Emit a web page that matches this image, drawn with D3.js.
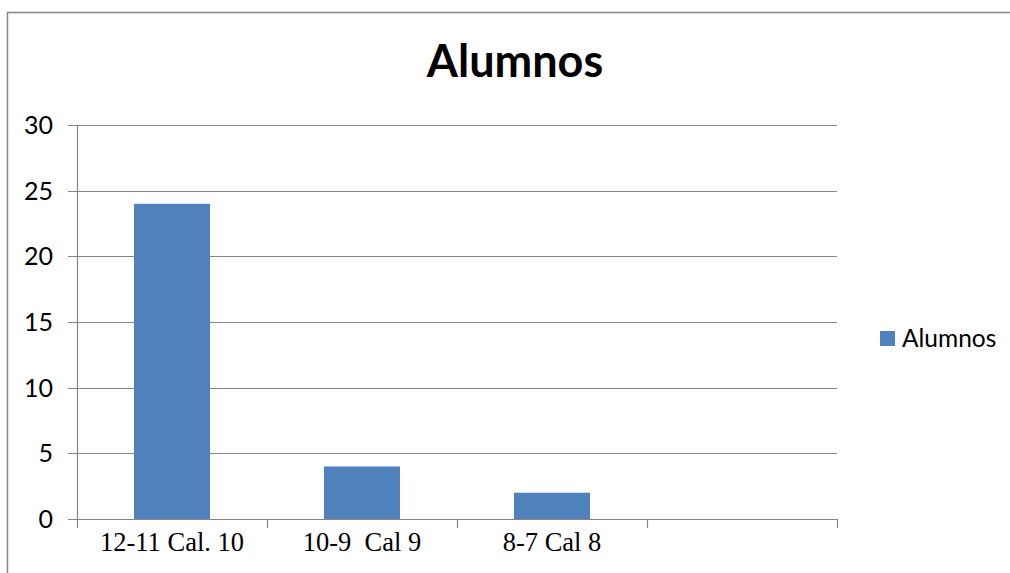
<!DOCTYPE html>
<html>
<head>
<meta charset="utf-8">
<script src="https://cdn.jsdelivr.net/npm/d3@7"></script>
<style>
  body { margin: 0; background: #fff; }
  svg { display: block; }
</style>
</head>
<body>
<svg id="chart" width="1010" height="573"></svg>
<script>
const categories = ["12-11 Cal. 10", "10-9  Cal 9", "8-7 Cal 8", ""];
const alumnos = [24, 4, 2, null];
const yTicks = [0, 5, 10, 15, 20, 25, 30];
const seriesName = "Alumnos";

const svg = d3.select("#chart");
const margin = { left: 77, right: 173, top: 125, bottom: 54 };
const width = 1010, height = 573;

// chart area border (cropped on right / bottom)
svg.append("rect")
  .attr("x", 7.5).attr("y", 12.5)
  .attr("width", 1100).attr("height", 700)
  .attr("fill", "none").attr("stroke", "#868686").attr("stroke-width", 1.5);

const x = d3.scaleBand()
  .domain(categories.map((d, i) => i))
  .range([margin.left, width - margin.right])
  .paddingInner(0.6)
  .paddingOuter(0.3);

const y = d3.scaleLinear()
  .domain([0, 30])
  .range([height - margin.bottom, margin.top]);

// gridlines
svg.append("g")
  .selectAll("line")
  .data(yTicks)
  .join("line")
  .attr("x1", margin.left - 9)
  .attr("x2", width - margin.right)
  .attr("y1", d => Math.round(y(d)) + 0.5)
  .attr("y2", d => Math.round(y(d)) + 0.5)
  .attr("stroke", "#868686")
  .attr("stroke-width", 1.2);

// y axis line
svg.append("line")
  .attr("x1", margin.left + 0.5).attr("x2", margin.left + 0.5)
  .attr("y1", y(30)).attr("y2", y(0))
  .attr("stroke", "#868686").attr("stroke-width", 1.2);

// y labels
svg.append("g")
  .selectAll("text")
  .data(yTicks)
  .join("text")
  .attr("x", 53)
  .attr("y", d => y(d))
  .attr("dy", "0.36em")
  .attr("text-anchor", "end")
  .attr("font-family", "Lato, 'Open Sans', sans-serif")
  .attr("font-size", 25)
  .attr("fill", "#000")
  .text(d => d);

// x category tick marks at boundaries
const step = x.step();
const bounds = d3.range(categories.length + 1).map(i => margin.left + i * step);
svg.append("g")
  .selectAll("line")
  .data(bounds)
  .join("line")
  .attr("x1", d => Math.round(d) + 0.5)
  .attr("x2", d => Math.round(d) + 0.5)
  .attr("y1", y(0))
  .attr("y2", y(0) + 9)
  .attr("stroke", "#868686")
  .attr("stroke-width", 1.2);

// bars
svg.append("g")
  .selectAll("rect")
  .data(alumnos.map((v, i) => ({ v, i })).filter(d => d.v != null))
  .join("rect")
  .attr("x", d => x(d.i))
  .attr("y", d => y(d.v))
  .attr("width", x.bandwidth())
  .attr("height", d => y(0) - y(d.v))
  .attr("fill", "#4f81bd");

// x labels
svg.append("g")
  .selectAll("text")
  .data(categories)
  .join("text")
  .attr("x", (d, i) => x(i) + x.bandwidth() / 2)
  .attr("y", 551)
  .attr("text-anchor", "middle")
  .attr("font-family", "'Liberation Serif', 'Times New Roman', serif")
  .attr("font-size", 26.5)
  .attr("fill", "#000")
  .attr("xml:space", "preserve")
  .style("white-space", "pre")
  .text(d => d);

// title
svg.append("text")
  .attr("x", 515)
  .attr("y", 77)
  .attr("text-anchor", "middle")
  .attr("font-family", "Lato, 'Open Sans', sans-serif")
  .attr("font-weight", "bold")
  .attr("font-size", 45)
  .attr("fill", "#000")
  .text("Alumnos");

// legend
const legend = svg.append("g").attr("transform", "translate(880,331)");
legend.append("rect")
  .attr("width", 15).attr("height", 15)
  .attr("fill", "#4f81bd");
legend.append("text")
  .attr("x", 22)
  .attr("y", 16)
  .attr("font-family", "Lato, 'Open Sans', sans-serif")
  .attr("font-size", 24.5)
  .attr("fill", "#000")
  .text(seriesName);
</script>
</body>
</html>
